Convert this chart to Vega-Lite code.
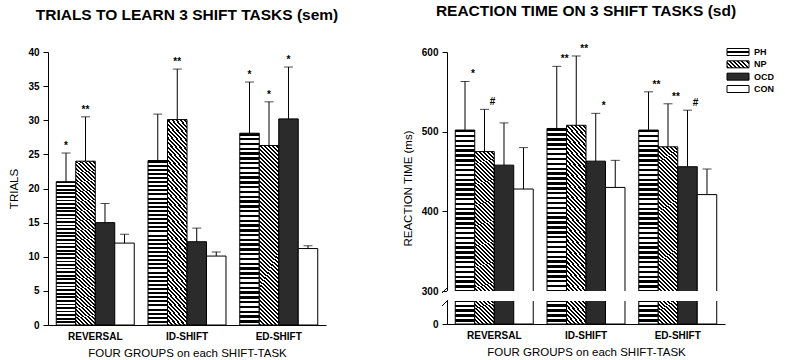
{
 "$schema": "https://vega.github.io/schema/vega-lite/v6.json",
 "padding": {"left": 8, "top": 4, "right": 0, "bottom": 0},
 "background": "#ffffff",
 "bounds": "flush",
 "spacing": 121,
 "datasets": {
  "trials": [
   {"task":"REVERSAL","group":"PH","value":21,"err":25.2,"sig":"*"},
   {"task":"REVERSAL","group":"NP","value":24,"err":30.5,"sig":"**"},
   {"task":"REVERSAL","group":"OCD","value":15,"err":17.8,"sig":""},
   {"task":"REVERSAL","group":"CON","value":12,"err":13.3,"sig":""},
   {"task":"ID-SHIFT","group":"PH","value":24.1,"err":30.9,"sig":""},
   {"task":"ID-SHIFT","group":"NP","value":30.1,"err":37.5,"sig":"**"},
   {"task":"ID-SHIFT","group":"OCD","value":12.2,"err":14.2,"sig":""},
   {"task":"ID-SHIFT","group":"CON","value":10.1,"err":10.7,"sig":""},
   {"task":"ED-SHIFT","group":"PH","value":28.1,"err":35.6,"sig":"*"},
   {"task":"ED-SHIFT","group":"NP","value":26.3,"err":32.7,"sig":"*"},
   {"task":"ED-SHIFT","group":"OCD","value":30.2,"err":37.8,"sig":"*"},
   {"task":"ED-SHIFT","group":"CON","value":11.2,"err":11.6,"sig":""}
  ],
  "rt": [
   {"task":"REVERSAL","group":"PH","value":502,"err":563,"sig":"*"},
   {"task":"REVERSAL","group":"NP","value":475,"err":528,"sig":"#"},
   {"task":"REVERSAL","group":"OCD","value":458,"err":511,"sig":""},
   {"task":"REVERSAL","group":"CON","value":428,"err":480,"sig":""},
   {"task":"ID-SHIFT","group":"PH","value":504,"err":582,"sig":"**"},
   {"task":"ID-SHIFT","group":"NP","value":508,"err":595,"sig":"**"},
   {"task":"ID-SHIFT","group":"OCD","value":463,"err":523,"sig":"*"},
   {"task":"ID-SHIFT","group":"CON","value":430,"err":464,"sig":""},
   {"task":"ED-SHIFT","group":"PH","value":502,"err":550,"sig":"**"},
   {"task":"ED-SHIFT","group":"NP","value":481,"err":535,"sig":"**"},
   {"task":"ED-SHIFT","group":"OCD","value":456,"err":527,"sig":"#"},
   {"task":"ED-SHIFT","group":"CON","value":421,"err":453,"sig":""}
  ],
  "legend": [
   {"group":"PH"},{"group":"NP"},{"group":"OCD"},{"group":"CON"}
  ]
 },
 "hconcat": [
  {
   "width": 278,
   "height": 273,
   "title": {"text": "TRIALS TO LEARN 3 SHIFT TASKS (sem)"},
   "data": {"name": "trials"},
   "encoding": {
    "x": {"field": "task", "type": "nominal", "sort": ["REVERSAL","ID-SHIFT","ED-SHIFT"], "scale": {"paddingInner": 0.15, "paddingOuter": 0.09}, "title": "FOUR GROUPS on each SHIFT-TASK"},
    "xOffset": {"field": "group", "type": "nominal", "scale": {"domain": ["PH","NP","OCD","CON"], "paddingInner": 0, "paddingOuter": 0}}
   },
   "layer": [
    {"transform": [{"filter": "datum.group === 'PH'"}], "mark": {"type": "bar", "stroke": "#000", "strokeWidth": 1, "fill": {"gradient": "linear", "x1": 0, "y1": 0, "x2": 0, "y2": 1, "stops": [
    {"offset":0,"color":"#000"},{"offset":0.0125,"color":"#000"},{"offset":0.0125,"color":"#fff"},{"offset":0.025,"color":"#fff"},
    {"offset":0.025,"color":"#000"},{"offset":0.0375,"color":"#000"},{"offset":0.0375,"color":"#fff"},{"offset":0.05,"color":"#fff"},
    {"offset":0.05,"color":"#000"},{"offset":0.0625,"color":"#000"},{"offset":0.0625,"color":"#fff"},{"offset":0.075,"color":"#fff"},
    {"offset":0.075,"color":"#000"},{"offset":0.0875,"color":"#000"},{"offset":0.0875,"color":"#fff"},{"offset":0.1,"color":"#fff"},
    {"offset":0.1,"color":"#000"},{"offset":0.1125,"color":"#000"},{"offset":0.1125,"color":"#fff"},{"offset":0.125,"color":"#fff"},
    {"offset":0.125,"color":"#000"},{"offset":0.1375,"color":"#000"},{"offset":0.1375,"color":"#fff"},{"offset":0.15,"color":"#fff"},
    {"offset":0.15,"color":"#000"},{"offset":0.1625,"color":"#000"},{"offset":0.1625,"color":"#fff"},{"offset":0.175,"color":"#fff"},
    {"offset":0.175,"color":"#000"},{"offset":0.1875,"color":"#000"},{"offset":0.1875,"color":"#fff"},{"offset":0.2,"color":"#fff"},
    {"offset":0.2,"color":"#000"},{"offset":0.2125,"color":"#000"},{"offset":0.2125,"color":"#fff"},{"offset":0.225,"color":"#fff"},
    {"offset":0.225,"color":"#000"},{"offset":0.2375,"color":"#000"},{"offset":0.2375,"color":"#fff"},{"offset":0.25,"color":"#fff"},
    {"offset":0.25,"color":"#000"},{"offset":0.2625,"color":"#000"},{"offset":0.2625,"color":"#fff"},{"offset":0.275,"color":"#fff"},
    {"offset":0.275,"color":"#000"},{"offset":0.2875,"color":"#000"},{"offset":0.2875,"color":"#fff"},{"offset":0.3,"color":"#fff"},
    {"offset":0.3,"color":"#000"},{"offset":0.3125,"color":"#000"},{"offset":0.3125,"color":"#fff"},{"offset":0.325,"color":"#fff"},
    {"offset":0.325,"color":"#000"},{"offset":0.3375,"color":"#000"},{"offset":0.3375,"color":"#fff"},{"offset":0.35,"color":"#fff"},
    {"offset":0.35,"color":"#000"},{"offset":0.3625,"color":"#000"},{"offset":0.3625,"color":"#fff"},{"offset":0.375,"color":"#fff"},
    {"offset":0.375,"color":"#000"},{"offset":0.3875,"color":"#000"},{"offset":0.3875,"color":"#fff"},{"offset":0.4,"color":"#fff"},
    {"offset":0.4,"color":"#000"},{"offset":0.4125,"color":"#000"},{"offset":0.4125,"color":"#fff"},{"offset":0.425,"color":"#fff"},
    {"offset":0.425,"color":"#000"},{"offset":0.4375,"color":"#000"},{"offset":0.4375,"color":"#fff"},{"offset":0.45,"color":"#fff"},
    {"offset":0.45,"color":"#000"},{"offset":0.4625,"color":"#000"},{"offset":0.4625,"color":"#fff"},{"offset":0.475,"color":"#fff"},
    {"offset":0.475,"color":"#000"},{"offset":0.4875,"color":"#000"},{"offset":0.4875,"color":"#fff"},{"offset":0.5,"color":"#fff"},
    {"offset":0.5,"color":"#000"},{"offset":0.5125,"color":"#000"},{"offset":0.5125,"color":"#fff"},{"offset":0.525,"color":"#fff"},
    {"offset":0.525,"color":"#000"},{"offset":0.5375,"color":"#000"},{"offset":0.5375,"color":"#fff"},{"offset":0.55,"color":"#fff"},
    {"offset":0.55,"color":"#000"},{"offset":0.5625,"color":"#000"},{"offset":0.5625,"color":"#fff"},{"offset":0.575,"color":"#fff"},
    {"offset":0.575,"color":"#000"},{"offset":0.5875,"color":"#000"},{"offset":0.5875,"color":"#fff"},{"offset":0.6,"color":"#fff"},
    {"offset":0.6,"color":"#000"},{"offset":0.6125,"color":"#000"},{"offset":0.6125,"color":"#fff"},{"offset":0.625,"color":"#fff"},
    {"offset":0.625,"color":"#000"},{"offset":0.6375,"color":"#000"},{"offset":0.6375,"color":"#fff"},{"offset":0.65,"color":"#fff"},
    {"offset":0.65,"color":"#000"},{"offset":0.6625,"color":"#000"},{"offset":0.6625,"color":"#fff"},{"offset":0.675,"color":"#fff"},
    {"offset":0.675,"color":"#000"},{"offset":0.6875,"color":"#000"},{"offset":0.6875,"color":"#fff"},{"offset":0.7,"color":"#fff"},
    {"offset":0.7,"color":"#000"},{"offset":0.7125,"color":"#000"},{"offset":0.7125,"color":"#fff"},{"offset":0.725,"color":"#fff"},
    {"offset":0.725,"color":"#000"},{"offset":0.7375,"color":"#000"},{"offset":0.7375,"color":"#fff"},{"offset":0.75,"color":"#fff"},
    {"offset":0.75,"color":"#000"},{"offset":0.7625,"color":"#000"},{"offset":0.7625,"color":"#fff"},{"offset":0.775,"color":"#fff"},
    {"offset":0.775,"color":"#000"},{"offset":0.7875,"color":"#000"},{"offset":0.7875,"color":"#fff"},{"offset":0.8,"color":"#fff"},
    {"offset":0.8,"color":"#000"},{"offset":0.8125,"color":"#000"},{"offset":0.8125,"color":"#fff"},{"offset":0.825,"color":"#fff"},
    {"offset":0.825,"color":"#000"},{"offset":0.8375,"color":"#000"},{"offset":0.8375,"color":"#fff"},{"offset":0.85,"color":"#fff"},
    {"offset":0.85,"color":"#000"},{"offset":0.8625,"color":"#000"},{"offset":0.8625,"color":"#fff"},{"offset":0.875,"color":"#fff"},
    {"offset":0.875,"color":"#000"},{"offset":0.8875,"color":"#000"},{"offset":0.8875,"color":"#fff"},{"offset":0.9,"color":"#fff"},
    {"offset":0.9,"color":"#000"},{"offset":0.9125,"color":"#000"},{"offset":0.9125,"color":"#fff"},{"offset":0.925,"color":"#fff"},
    {"offset":0.925,"color":"#000"},{"offset":0.9375,"color":"#000"},{"offset":0.9375,"color":"#fff"},{"offset":0.95,"color":"#fff"},
    {"offset":0.95,"color":"#000"},{"offset":0.9625,"color":"#000"},{"offset":0.9625,"color":"#fff"},{"offset":0.975,"color":"#fff"},
    {"offset":0.975,"color":"#000"},{"offset":0.9875,"color":"#000"},{"offset":0.9875,"color":"#fff"},{"offset":1,"color":"#fff"}
    ]}}, "encoding": {"y": {"field": "value", "type": "quantitative", "title": "TRIALS", "scale": {"domain": [0, 40], "nice": false}, "axis": {"values": [0,5,10,15,20,25,30,35,40]}}}},
    {"transform": [{"filter": "datum.group === 'NP'"}], "mark": {"type": "bar", "stroke": "#000", "strokeWidth": 1, "fill": {"gradient": "linear", "x1": 0, "y1": 1, "x2": 0.1164, "y2": -0.094, "stops": [
    {"offset":0,"color":"#000"},{"offset":0.01,"color":"#000"},{"offset":0.01,"color":"#fff"},{"offset":0.02,"color":"#fff"},
    {"offset":0.02,"color":"#000"},{"offset":0.03,"color":"#000"},{"offset":0.03,"color":"#fff"},{"offset":0.04,"color":"#fff"},
    {"offset":0.04,"color":"#000"},{"offset":0.05,"color":"#000"},{"offset":0.05,"color":"#fff"},{"offset":0.06,"color":"#fff"},
    {"offset":0.06,"color":"#000"},{"offset":0.07,"color":"#000"},{"offset":0.07,"color":"#fff"},{"offset":0.08,"color":"#fff"},
    {"offset":0.08,"color":"#000"},{"offset":0.09,"color":"#000"},{"offset":0.09,"color":"#fff"},{"offset":0.1,"color":"#fff"},
    {"offset":0.1,"color":"#000"},{"offset":0.11,"color":"#000"},{"offset":0.11,"color":"#fff"},{"offset":0.12,"color":"#fff"},
    {"offset":0.12,"color":"#000"},{"offset":0.13,"color":"#000"},{"offset":0.13,"color":"#fff"},{"offset":0.14,"color":"#fff"},
    {"offset":0.14,"color":"#000"},{"offset":0.15,"color":"#000"},{"offset":0.15,"color":"#fff"},{"offset":0.16,"color":"#fff"},
    {"offset":0.16,"color":"#000"},{"offset":0.17,"color":"#000"},{"offset":0.17,"color":"#fff"},{"offset":0.18,"color":"#fff"},
    {"offset":0.18,"color":"#000"},{"offset":0.19,"color":"#000"},{"offset":0.19,"color":"#fff"},{"offset":0.2,"color":"#fff"},
    {"offset":0.2,"color":"#000"},{"offset":0.21,"color":"#000"},{"offset":0.21,"color":"#fff"},{"offset":0.22,"color":"#fff"},
    {"offset":0.22,"color":"#000"},{"offset":0.23,"color":"#000"},{"offset":0.23,"color":"#fff"},{"offset":0.24,"color":"#fff"},
    {"offset":0.24,"color":"#000"},{"offset":0.25,"color":"#000"},{"offset":0.25,"color":"#fff"},{"offset":0.26,"color":"#fff"},
    {"offset":0.26,"color":"#000"},{"offset":0.27,"color":"#000"},{"offset":0.27,"color":"#fff"},{"offset":0.28,"color":"#fff"},
    {"offset":0.28,"color":"#000"},{"offset":0.29,"color":"#000"},{"offset":0.29,"color":"#fff"},{"offset":0.3,"color":"#fff"},
    {"offset":0.3,"color":"#000"},{"offset":0.31,"color":"#000"},{"offset":0.31,"color":"#fff"},{"offset":0.32,"color":"#fff"},
    {"offset":0.32,"color":"#000"},{"offset":0.33,"color":"#000"},{"offset":0.33,"color":"#fff"},{"offset":0.34,"color":"#fff"},
    {"offset":0.34,"color":"#000"},{"offset":0.35,"color":"#000"},{"offset":0.35,"color":"#fff"},{"offset":0.36,"color":"#fff"},
    {"offset":0.36,"color":"#000"},{"offset":0.37,"color":"#000"},{"offset":0.37,"color":"#fff"},{"offset":0.38,"color":"#fff"},
    {"offset":0.38,"color":"#000"},{"offset":0.39,"color":"#000"},{"offset":0.39,"color":"#fff"},{"offset":0.4,"color":"#fff"},
    {"offset":0.4,"color":"#000"},{"offset":0.41,"color":"#000"},{"offset":0.41,"color":"#fff"},{"offset":0.42,"color":"#fff"},
    {"offset":0.42,"color":"#000"},{"offset":0.43,"color":"#000"},{"offset":0.43,"color":"#fff"},{"offset":0.44,"color":"#fff"},
    {"offset":0.44,"color":"#000"},{"offset":0.45,"color":"#000"},{"offset":0.45,"color":"#fff"},{"offset":0.46,"color":"#fff"},
    {"offset":0.46,"color":"#000"},{"offset":0.47,"color":"#000"},{"offset":0.47,"color":"#fff"},{"offset":0.48,"color":"#fff"},
    {"offset":0.48,"color":"#000"},{"offset":0.49,"color":"#000"},{"offset":0.49,"color":"#fff"},{"offset":0.5,"color":"#fff"},
    {"offset":0.5,"color":"#000"},{"offset":0.51,"color":"#000"},{"offset":0.51,"color":"#fff"},{"offset":0.52,"color":"#fff"},
    {"offset":0.52,"color":"#000"},{"offset":0.53,"color":"#000"},{"offset":0.53,"color":"#fff"},{"offset":0.54,"color":"#fff"},
    {"offset":0.54,"color":"#000"},{"offset":0.55,"color":"#000"},{"offset":0.55,"color":"#fff"},{"offset":0.56,"color":"#fff"},
    {"offset":0.56,"color":"#000"},{"offset":0.57,"color":"#000"},{"offset":0.57,"color":"#fff"},{"offset":0.58,"color":"#fff"},
    {"offset":0.58,"color":"#000"},{"offset":0.59,"color":"#000"},{"offset":0.59,"color":"#fff"},{"offset":0.6,"color":"#fff"},
    {"offset":0.6,"color":"#000"},{"offset":0.61,"color":"#000"},{"offset":0.61,"color":"#fff"},{"offset":0.62,"color":"#fff"},
    {"offset":0.62,"color":"#000"},{"offset":0.63,"color":"#000"},{"offset":0.63,"color":"#fff"},{"offset":0.64,"color":"#fff"},
    {"offset":0.64,"color":"#000"},{"offset":0.65,"color":"#000"},{"offset":0.65,"color":"#fff"},{"offset":0.66,"color":"#fff"},
    {"offset":0.66,"color":"#000"},{"offset":0.67,"color":"#000"},{"offset":0.67,"color":"#fff"},{"offset":0.68,"color":"#fff"},
    {"offset":0.68,"color":"#000"},{"offset":0.69,"color":"#000"},{"offset":0.69,"color":"#fff"},{"offset":0.7,"color":"#fff"},
    {"offset":0.7,"color":"#000"},{"offset":0.71,"color":"#000"},{"offset":0.71,"color":"#fff"},{"offset":0.72,"color":"#fff"},
    {"offset":0.72,"color":"#000"},{"offset":0.73,"color":"#000"},{"offset":0.73,"color":"#fff"},{"offset":0.74,"color":"#fff"},
    {"offset":0.74,"color":"#000"},{"offset":0.75,"color":"#000"},{"offset":0.75,"color":"#fff"},{"offset":0.76,"color":"#fff"},
    {"offset":0.76,"color":"#000"},{"offset":0.77,"color":"#000"},{"offset":0.77,"color":"#fff"},{"offset":0.78,"color":"#fff"},
    {"offset":0.78,"color":"#000"},{"offset":0.79,"color":"#000"},{"offset":0.79,"color":"#fff"},{"offset":0.8,"color":"#fff"},
    {"offset":0.8,"color":"#000"},{"offset":0.81,"color":"#000"},{"offset":0.81,"color":"#fff"},{"offset":0.82,"color":"#fff"},
    {"offset":0.82,"color":"#000"},{"offset":0.83,"color":"#000"},{"offset":0.83,"color":"#fff"},{"offset":0.84,"color":"#fff"},
    {"offset":0.84,"color":"#000"},{"offset":0.85,"color":"#000"},{"offset":0.85,"color":"#fff"},{"offset":0.86,"color":"#fff"},
    {"offset":0.86,"color":"#000"},{"offset":0.87,"color":"#000"},{"offset":0.87,"color":"#fff"},{"offset":0.88,"color":"#fff"},
    {"offset":0.88,"color":"#000"},{"offset":0.89,"color":"#000"},{"offset":0.89,"color":"#fff"},{"offset":0.9,"color":"#fff"},
    {"offset":0.9,"color":"#000"},{"offset":0.91,"color":"#000"},{"offset":0.91,"color":"#fff"},{"offset":0.92,"color":"#fff"},
    {"offset":0.92,"color":"#000"},{"offset":0.93,"color":"#000"},{"offset":0.93,"color":"#fff"},{"offset":0.94,"color":"#fff"},
    {"offset":0.94,"color":"#000"},{"offset":0.95,"color":"#000"},{"offset":0.95,"color":"#fff"},{"offset":0.96,"color":"#fff"},
    {"offset":0.96,"color":"#000"},{"offset":0.97,"color":"#000"},{"offset":0.97,"color":"#fff"},{"offset":0.98,"color":"#fff"},
    {"offset":0.98,"color":"#000"},{"offset":0.99,"color":"#000"},{"offset":0.99,"color":"#fff"},{"offset":1,"color":"#fff"}
    ]}}, "encoding": {"y": {"field": "value", "type": "quantitative", "title": "TRIALS", "axis": {"values": [0,5,10,15,20,25,30,35,40]}}}},
    {"transform": [{"filter": "datum.group === 'OCD'"}], "mark": {"type": "bar", "fill": "#2b2b2b", "stroke": "#000", "strokeWidth": 1}, "encoding": {"y": {"field": "value", "type": "quantitative", "title": "TRIALS", "axis": {"values": [0,5,10,15,20,25,30,35,40]}}}},
    {"transform": [{"filter": "datum.group === 'CON'"}], "mark": {"type": "bar", "fill": "#ffffff", "stroke": "#000", "strokeWidth": 1}, "encoding": {"y": {"field": "value", "type": "quantitative", "title": "TRIALS", "axis": {"values": [0,5,10,15,20,25,30,35,40]}}}},
    {"mark": {"type": "rule", "color": "#000", "strokeWidth": 1}, "encoding": {"y": {"field": "value", "type": "quantitative", "title": "TRIALS", "axis": {"values": [0,5,10,15,20,25,30,35,40]}}, "y2": {"field": "err"}}},
    {"mark": {"type": "tick", "color": "#000", "size": 9, "thickness": 1}, "encoding": {"y": {"field": "err", "type": "quantitative", "title": "TRIALS", "axis": {"values": [0,5,10,15,20,25,30,35,40]}}}},
    {"mark": {"type": "text", "fontSize": 10, "fontWeight": "bold", "baseline": "alphabetic", "dy": -4, "color": "#000"}, "encoding": {"y": {"field": "err", "type": "quantitative", "title": "TRIALS", "axis": {"values": [0,5,10,15,20,25,30,35,40]}}, "text": {"field": "sig"}}}
   ]
  },
  {
   "bounds": "flush",
   "spacing": 2,
   "hconcat": [
    {
     "width": 278,
     "height": 272,
     "title": {"text": "REACTION TIME ON 3 SHIFT TASKS (sd)"},
     "resolve": {"scale": {"x": "independent"}, "axis": {"x": "independent"}},
     "layer": [
      {
       "data": {"name": "rt"},
       "encoding": {
        "x": {"field": "task", "type": "nominal", "sort": ["REVERSAL","ID-SHIFT","ED-SHIFT"], "scale": {"paddingInner": 0.15, "paddingOuter": 0.09}, "title": "FOUR GROUPS on each SHIFT-TASK"},
        "xOffset": {"field": "group", "type": "nominal", "scale": {"domain": ["PH","NP","OCD","CON"], "paddingInner": 0, "paddingOuter": 0}}
       },
       "layer": [
        {"transform": [{"filter": "datum.group === 'PH'"}], "mark": {"type": "bar", "stroke": "#000", "strokeWidth": 1, "fill": {"gradient": "linear", "x1": 0, "y1": 0, "x2": 0, "y2": 1, "stops": [
    {"offset":0,"color":"#000"},{"offset":0.0125,"color":"#000"},{"offset":0.0125,"color":"#fff"},{"offset":0.025,"color":"#fff"},
    {"offset":0.025,"color":"#000"},{"offset":0.0375,"color":"#000"},{"offset":0.0375,"color":"#fff"},{"offset":0.05,"color":"#fff"},
    {"offset":0.05,"color":"#000"},{"offset":0.0625,"color":"#000"},{"offset":0.0625,"color":"#fff"},{"offset":0.075,"color":"#fff"},
    {"offset":0.075,"color":"#000"},{"offset":0.0875,"color":"#000"},{"offset":0.0875,"color":"#fff"},{"offset":0.1,"color":"#fff"},
    {"offset":0.1,"color":"#000"},{"offset":0.1125,"color":"#000"},{"offset":0.1125,"color":"#fff"},{"offset":0.125,"color":"#fff"},
    {"offset":0.125,"color":"#000"},{"offset":0.1375,"color":"#000"},{"offset":0.1375,"color":"#fff"},{"offset":0.15,"color":"#fff"},
    {"offset":0.15,"color":"#000"},{"offset":0.1625,"color":"#000"},{"offset":0.1625,"color":"#fff"},{"offset":0.175,"color":"#fff"},
    {"offset":0.175,"color":"#000"},{"offset":0.1875,"color":"#000"},{"offset":0.1875,"color":"#fff"},{"offset":0.2,"color":"#fff"},
    {"offset":0.2,"color":"#000"},{"offset":0.2125,"color":"#000"},{"offset":0.2125,"color":"#fff"},{"offset":0.225,"color":"#fff"},
    {"offset":0.225,"color":"#000"},{"offset":0.2375,"color":"#000"},{"offset":0.2375,"color":"#fff"},{"offset":0.25,"color":"#fff"},
    {"offset":0.25,"color":"#000"},{"offset":0.2625,"color":"#000"},{"offset":0.2625,"color":"#fff"},{"offset":0.275,"color":"#fff"},
    {"offset":0.275,"color":"#000"},{"offset":0.2875,"color":"#000"},{"offset":0.2875,"color":"#fff"},{"offset":0.3,"color":"#fff"},
    {"offset":0.3,"color":"#000"},{"offset":0.3125,"color":"#000"},{"offset":0.3125,"color":"#fff"},{"offset":0.325,"color":"#fff"},
    {"offset":0.325,"color":"#000"},{"offset":0.3375,"color":"#000"},{"offset":0.3375,"color":"#fff"},{"offset":0.35,"color":"#fff"},
    {"offset":0.35,"color":"#000"},{"offset":0.3625,"color":"#000"},{"offset":0.3625,"color":"#fff"},{"offset":0.375,"color":"#fff"},
    {"offset":0.375,"color":"#000"},{"offset":0.3875,"color":"#000"},{"offset":0.3875,"color":"#fff"},{"offset":0.4,"color":"#fff"},
    {"offset":0.4,"color":"#000"},{"offset":0.4125,"color":"#000"},{"offset":0.4125,"color":"#fff"},{"offset":0.425,"color":"#fff"},
    {"offset":0.425,"color":"#000"},{"offset":0.4375,"color":"#000"},{"offset":0.4375,"color":"#fff"},{"offset":0.45,"color":"#fff"},
    {"offset":0.45,"color":"#000"},{"offset":0.4625,"color":"#000"},{"offset":0.4625,"color":"#fff"},{"offset":0.475,"color":"#fff"},
    {"offset":0.475,"color":"#000"},{"offset":0.4875,"color":"#000"},{"offset":0.4875,"color":"#fff"},{"offset":0.5,"color":"#fff"},
    {"offset":0.5,"color":"#000"},{"offset":0.5125,"color":"#000"},{"offset":0.5125,"color":"#fff"},{"offset":0.525,"color":"#fff"},
    {"offset":0.525,"color":"#000"},{"offset":0.5375,"color":"#000"},{"offset":0.5375,"color":"#fff"},{"offset":0.55,"color":"#fff"},
    {"offset":0.55,"color":"#000"},{"offset":0.5625,"color":"#000"},{"offset":0.5625,"color":"#fff"},{"offset":0.575,"color":"#fff"},
    {"offset":0.575,"color":"#000"},{"offset":0.5875,"color":"#000"},{"offset":0.5875,"color":"#fff"},{"offset":0.6,"color":"#fff"},
    {"offset":0.6,"color":"#000"},{"offset":0.6125,"color":"#000"},{"offset":0.6125,"color":"#fff"},{"offset":0.625,"color":"#fff"},
    {"offset":0.625,"color":"#000"},{"offset":0.6375,"color":"#000"},{"offset":0.6375,"color":"#fff"},{"offset":0.65,"color":"#fff"},
    {"offset":0.65,"color":"#000"},{"offset":0.6625,"color":"#000"},{"offset":0.6625,"color":"#fff"},{"offset":0.675,"color":"#fff"},
    {"offset":0.675,"color":"#000"},{"offset":0.6875,"color":"#000"},{"offset":0.6875,"color":"#fff"},{"offset":0.7,"color":"#fff"},
    {"offset":0.7,"color":"#000"},{"offset":0.7125,"color":"#000"},{"offset":0.7125,"color":"#fff"},{"offset":0.725,"color":"#fff"},
    {"offset":0.725,"color":"#000"},{"offset":0.7375,"color":"#000"},{"offset":0.7375,"color":"#fff"},{"offset":0.75,"color":"#fff"},
    {"offset":0.75,"color":"#000"},{"offset":0.7625,"color":"#000"},{"offset":0.7625,"color":"#fff"},{"offset":0.775,"color":"#fff"},
    {"offset":0.775,"color":"#000"},{"offset":0.7875,"color":"#000"},{"offset":0.7875,"color":"#fff"},{"offset":0.8,"color":"#fff"},
    {"offset":0.8,"color":"#000"},{"offset":0.8125,"color":"#000"},{"offset":0.8125,"color":"#fff"},{"offset":0.825,"color":"#fff"},
    {"offset":0.825,"color":"#000"},{"offset":0.8375,"color":"#000"},{"offset":0.8375,"color":"#fff"},{"offset":0.85,"color":"#fff"},
    {"offset":0.85,"color":"#000"},{"offset":0.8625,"color":"#000"},{"offset":0.8625,"color":"#fff"},{"offset":0.875,"color":"#fff"},
    {"offset":0.875,"color":"#000"},{"offset":0.8875,"color":"#000"},{"offset":0.8875,"color":"#fff"},{"offset":0.9,"color":"#fff"},
    {"offset":0.9,"color":"#000"},{"offset":0.9125,"color":"#000"},{"offset":0.9125,"color":"#fff"},{"offset":0.925,"color":"#fff"},
    {"offset":0.925,"color":"#000"},{"offset":0.9375,"color":"#000"},{"offset":0.9375,"color":"#fff"},{"offset":0.95,"color":"#fff"},
    {"offset":0.95,"color":"#000"},{"offset":0.9625,"color":"#000"},{"offset":0.9625,"color":"#fff"},{"offset":0.975,"color":"#fff"},
    {"offset":0.975,"color":"#000"},{"offset":0.9875,"color":"#000"},{"offset":0.9875,"color":"#fff"},{"offset":1,"color":"#fff"}
        ]}}, "encoding": {"y": {"field": "value", "type": "quantitative", "title": "REACTION TIME (ms)", "scale": {"domain": [0, 300, 600], "range": [272, 239, 0], "nice": false, "zero": false}, "axis": {"values": [0,300,400,500,600]}}}},
        {"transform": [{"filter": "datum.group === 'NP'"}], "mark": {"type": "bar", "stroke": "#000", "strokeWidth": 1, "fill": {"gradient": "linear", "x1": 0, "y1": 1, "x2": 0.1164, "y2": -0.094, "stops": [
    {"offset":0,"color":"#000"},{"offset":0.01,"color":"#000"},{"offset":0.01,"color":"#fff"},{"offset":0.02,"color":"#fff"},
    {"offset":0.02,"color":"#000"},{"offset":0.03,"color":"#000"},{"offset":0.03,"color":"#fff"},{"offset":0.04,"color":"#fff"},
    {"offset":0.04,"color":"#000"},{"offset":0.05,"color":"#000"},{"offset":0.05,"color":"#fff"},{"offset":0.06,"color":"#fff"},
    {"offset":0.06,"color":"#000"},{"offset":0.07,"color":"#000"},{"offset":0.07,"color":"#fff"},{"offset":0.08,"color":"#fff"},
    {"offset":0.08,"color":"#000"},{"offset":0.09,"color":"#000"},{"offset":0.09,"color":"#fff"},{"offset":0.1,"color":"#fff"},
    {"offset":0.1,"color":"#000"},{"offset":0.11,"color":"#000"},{"offset":0.11,"color":"#fff"},{"offset":0.12,"color":"#fff"},
    {"offset":0.12,"color":"#000"},{"offset":0.13,"color":"#000"},{"offset":0.13,"color":"#fff"},{"offset":0.14,"color":"#fff"},
    {"offset":0.14,"color":"#000"},{"offset":0.15,"color":"#000"},{"offset":0.15,"color":"#fff"},{"offset":0.16,"color":"#fff"},
    {"offset":0.16,"color":"#000"},{"offset":0.17,"color":"#000"},{"offset":0.17,"color":"#fff"},{"offset":0.18,"color":"#fff"},
    {"offset":0.18,"color":"#000"},{"offset":0.19,"color":"#000"},{"offset":0.19,"color":"#fff"},{"offset":0.2,"color":"#fff"},
    {"offset":0.2,"color":"#000"},{"offset":0.21,"color":"#000"},{"offset":0.21,"color":"#fff"},{"offset":0.22,"color":"#fff"},
    {"offset":0.22,"color":"#000"},{"offset":0.23,"color":"#000"},{"offset":0.23,"color":"#fff"},{"offset":0.24,"color":"#fff"},
    {"offset":0.24,"color":"#000"},{"offset":0.25,"color":"#000"},{"offset":0.25,"color":"#fff"},{"offset":0.26,"color":"#fff"},
    {"offset":0.26,"color":"#000"},{"offset":0.27,"color":"#000"},{"offset":0.27,"color":"#fff"},{"offset":0.28,"color":"#fff"},
    {"offset":0.28,"color":"#000"},{"offset":0.29,"color":"#000"},{"offset":0.29,"color":"#fff"},{"offset":0.3,"color":"#fff"},
    {"offset":0.3,"color":"#000"},{"offset":0.31,"color":"#000"},{"offset":0.31,"color":"#fff"},{"offset":0.32,"color":"#fff"},
    {"offset":0.32,"color":"#000"},{"offset":0.33,"color":"#000"},{"offset":0.33,"color":"#fff"},{"offset":0.34,"color":"#fff"},
    {"offset":0.34,"color":"#000"},{"offset":0.35,"color":"#000"},{"offset":0.35,"color":"#fff"},{"offset":0.36,"color":"#fff"},
    {"offset":0.36,"color":"#000"},{"offset":0.37,"color":"#000"},{"offset":0.37,"color":"#fff"},{"offset":0.38,"color":"#fff"},
    {"offset":0.38,"color":"#000"},{"offset":0.39,"color":"#000"},{"offset":0.39,"color":"#fff"},{"offset":0.4,"color":"#fff"},
    {"offset":0.4,"color":"#000"},{"offset":0.41,"color":"#000"},{"offset":0.41,"color":"#fff"},{"offset":0.42,"color":"#fff"},
    {"offset":0.42,"color":"#000"},{"offset":0.43,"color":"#000"},{"offset":0.43,"color":"#fff"},{"offset":0.44,"color":"#fff"},
    {"offset":0.44,"color":"#000"},{"offset":0.45,"color":"#000"},{"offset":0.45,"color":"#fff"},{"offset":0.46,"color":"#fff"},
    {"offset":0.46,"color":"#000"},{"offset":0.47,"color":"#000"},{"offset":0.47,"color":"#fff"},{"offset":0.48,"color":"#fff"},
    {"offset":0.48,"color":"#000"},{"offset":0.49,"color":"#000"},{"offset":0.49,"color":"#fff"},{"offset":0.5,"color":"#fff"},
    {"offset":0.5,"color":"#000"},{"offset":0.51,"color":"#000"},{"offset":0.51,"color":"#fff"},{"offset":0.52,"color":"#fff"},
    {"offset":0.52,"color":"#000"},{"offset":0.53,"color":"#000"},{"offset":0.53,"color":"#fff"},{"offset":0.54,"color":"#fff"},
    {"offset":0.54,"color":"#000"},{"offset":0.55,"color":"#000"},{"offset":0.55,"color":"#fff"},{"offset":0.56,"color":"#fff"},
    {"offset":0.56,"color":"#000"},{"offset":0.57,"color":"#000"},{"offset":0.57,"color":"#fff"},{"offset":0.58,"color":"#fff"},
    {"offset":0.58,"color":"#000"},{"offset":0.59,"color":"#000"},{"offset":0.59,"color":"#fff"},{"offset":0.6,"color":"#fff"},
    {"offset":0.6,"color":"#000"},{"offset":0.61,"color":"#000"},{"offset":0.61,"color":"#fff"},{"offset":0.62,"color":"#fff"},
    {"offset":0.62,"color":"#000"},{"offset":0.63,"color":"#000"},{"offset":0.63,"color":"#fff"},{"offset":0.64,"color":"#fff"},
    {"offset":0.64,"color":"#000"},{"offset":0.65,"color":"#000"},{"offset":0.65,"color":"#fff"},{"offset":0.66,"color":"#fff"},
    {"offset":0.66,"color":"#000"},{"offset":0.67,"color":"#000"},{"offset":0.67,"color":"#fff"},{"offset":0.68,"color":"#fff"},
    {"offset":0.68,"color":"#000"},{"offset":0.69,"color":"#000"},{"offset":0.69,"color":"#fff"},{"offset":0.7,"color":"#fff"},
    {"offset":0.7,"color":"#000"},{"offset":0.71,"color":"#000"},{"offset":0.71,"color":"#fff"},{"offset":0.72,"color":"#fff"},
    {"offset":0.72,"color":"#000"},{"offset":0.73,"color":"#000"},{"offset":0.73,"color":"#fff"},{"offset":0.74,"color":"#fff"},
    {"offset":0.74,"color":"#000"},{"offset":0.75,"color":"#000"},{"offset":0.75,"color":"#fff"},{"offset":0.76,"color":"#fff"},
    {"offset":0.76,"color":"#000"},{"offset":0.77,"color":"#000"},{"offset":0.77,"color":"#fff"},{"offset":0.78,"color":"#fff"},
    {"offset":0.78,"color":"#000"},{"offset":0.79,"color":"#000"},{"offset":0.79,"color":"#fff"},{"offset":0.8,"color":"#fff"},
    {"offset":0.8,"color":"#000"},{"offset":0.81,"color":"#000"},{"offset":0.81,"color":"#fff"},{"offset":0.82,"color":"#fff"},
    {"offset":0.82,"color":"#000"},{"offset":0.83,"color":"#000"},{"offset":0.83,"color":"#fff"},{"offset":0.84,"color":"#fff"},
    {"offset":0.84,"color":"#000"},{"offset":0.85,"color":"#000"},{"offset":0.85,"color":"#fff"},{"offset":0.86,"color":"#fff"},
    {"offset":0.86,"color":"#000"},{"offset":0.87,"color":"#000"},{"offset":0.87,"color":"#fff"},{"offset":0.88,"color":"#fff"},
    {"offset":0.88,"color":"#000"},{"offset":0.89,"color":"#000"},{"offset":0.89,"color":"#fff"},{"offset":0.9,"color":"#fff"},
    {"offset":0.9,"color":"#000"},{"offset":0.91,"color":"#000"},{"offset":0.91,"color":"#fff"},{"offset":0.92,"color":"#fff"},
    {"offset":0.92,"color":"#000"},{"offset":0.93,"color":"#000"},{"offset":0.93,"color":"#fff"},{"offset":0.94,"color":"#fff"},
    {"offset":0.94,"color":"#000"},{"offset":0.95,"color":"#000"},{"offset":0.95,"color":"#fff"},{"offset":0.96,"color":"#fff"},
    {"offset":0.96,"color":"#000"},{"offset":0.97,"color":"#000"},{"offset":0.97,"color":"#fff"},{"offset":0.98,"color":"#fff"},
    {"offset":0.98,"color":"#000"},{"offset":0.99,"color":"#000"},{"offset":0.99,"color":"#fff"},{"offset":1,"color":"#fff"}
        ]}}, "encoding": {"y": {"field": "value", "type": "quantitative", "title": "REACTION TIME (ms)"}}},
        {"transform": [{"filter": "datum.group === 'OCD'"}], "mark": {"type": "bar", "fill": "#2b2b2b", "stroke": "#000", "strokeWidth": 1}, "encoding": {"y": {"field": "value", "type": "quantitative", "title": "REACTION TIME (ms)"}}},
        {"transform": [{"filter": "datum.group === 'CON'"}], "mark": {"type": "bar", "fill": "#ffffff", "stroke": "#000", "strokeWidth": 1}, "encoding": {"y": {"field": "value", "type": "quantitative", "title": "REACTION TIME (ms)"}}},
        {"mark": {"type": "rule", "color": "#000", "strokeWidth": 1}, "encoding": {"y": {"field": "value", "type": "quantitative", "title": "REACTION TIME (ms)"}, "y2": {"field": "err"}}},
        {"mark": {"type": "tick", "color": "#000", "size": 9, "thickness": 1}, "encoding": {"y": {"field": "err", "type": "quantitative", "title": "REACTION TIME (ms)"}}},
        {"mark": {"type": "text", "fontSize": 10, "fontWeight": "bold", "baseline": "alphabetic", "dy": -4, "dx": 8, "color": "#000"}, "encoding": {"y": {"field": "err", "type": "quantitative", "title": "REACTION TIME (ms)"}, "text": {"field": "sig"}}}
       ]
      },
      {
       "data": {"values": [{}]},
       "mark": {"type": "rect", "fill": "#ffffff"},
       "encoding": {"y": {"datum": 209, "type": "quantitative", "title": "REACTION TIME (ms)"}, "y2": {"datum": 300}}
      },
      {
       "data": {"values": [{}]},
       "mark": {"type": "rule", "color": "#000", "strokeWidth": 1},
       "encoding": {"x": {"datum": -0.018, "type": "quantitative", "scale": {"domain": [0, 1], "nice": false, "zero": false}, "axis": null}, "x2": {"datum": 0.004}, "y": {"datum": 282, "type": "quantitative", "title": "REACTION TIME (ms)"}, "y2": {"datum": 305}}
      },
      {
       "data": {"values": [{}]},
       "mark": {"type": "rule", "color": "#000", "strokeWidth": 1},
       "encoding": {"x": {"datum": -0.018, "type": "quantitative", "scale": {"domain": [0, 1], "nice": false, "zero": false}, "axis": null}, "x2": {"datum": 0.004}, "y": {"datum": 164, "type": "quantitative", "title": "REACTION TIME (ms)"}, "y2": {"datum": 218}}
      }
     ]
    },
    {
     "width": 55,
     "height": 37,
     "data": {"name": "legend"},
     "encoding": {
      "y": {"field": "group", "type": "nominal", "scale": {"type": "point", "padding": 0, "domain": ["PH","NP","OCD","CON"]}, "axis": null}
     },
     "layer": [
      {"transform": [{"filter": "datum.group === 'PH'"}], "mark": {"type": "bar", "stroke": "#000", "strokeWidth": 1, "height": 7, "fill": {"gradient": "linear", "x1": 0, "y1": 0, "x2": 0, "y2": 1, "stops": [
    {"offset":0,"color":"#fff"},{"offset":0.3,"color":"#fff"},{"offset":0.3,"color":"#000"},{"offset":0.43,"color":"#000"},{"offset":0.43,"color":"#fff"},{"offset":0.57,"color":"#fff"},{"offset":0.57,"color":"#000"},{"offset":0.7,"color":"#000"},{"offset":0.7,"color":"#fff"},{"offset":1,"color":"#fff"}
      ]}}, "encoding": {"x": {"datum": 0, "type": "quantitative", "scale": {"domain": [0, 55], "nice": false, "zero": false}, "axis": null}, "x2": {"datum": 22}}},
      {"transform": [{"filter": "datum.group === 'NP'"}], "mark": {"type": "bar", "stroke": "#000", "strokeWidth": 1, "height": 7, "fill": {"gradient": "linear", "x1": 0, "y1": 1, "x2": 1.197, "y2": 0.619, "stops": [
    {"offset":0,"color":"#000"},{"offset":0.0714,"color":"#000"},{"offset":0.0714,"color":"#fff"},{"offset":0.1429,"color":"#fff"},
    {"offset":0.1429,"color":"#000"},{"offset":0.2143,"color":"#000"},{"offset":0.2143,"color":"#fff"},{"offset":0.2857,"color":"#fff"},
    {"offset":0.2857,"color":"#000"},{"offset":0.3571,"color":"#000"},{"offset":0.3571,"color":"#fff"},{"offset":0.4286,"color":"#fff"},
    {"offset":0.4286,"color":"#000"},{"offset":0.5,"color":"#000"},{"offset":0.5,"color":"#fff"},{"offset":0.5714,"color":"#fff"},
    {"offset":0.5714,"color":"#000"},{"offset":0.6429,"color":"#000"},{"offset":0.6429,"color":"#fff"},{"offset":0.7143,"color":"#fff"},
    {"offset":0.7143,"color":"#000"},{"offset":0.7857,"color":"#000"},{"offset":0.7857,"color":"#fff"},{"offset":0.8571,"color":"#fff"},
    {"offset":0.8571,"color":"#000"},{"offset":0.9286,"color":"#000"},{"offset":0.9286,"color":"#fff"},{"offset":1,"color":"#fff"}
      ]}}, "encoding": {"x": {"datum": 0, "type": "quantitative"}, "x2": {"datum": 22}}},
      {"transform": [{"filter": "datum.group === 'OCD'"}], "mark": {"type": "bar", "fill": "#2b2b2b", "stroke": "#000", "strokeWidth": 1, "height": 7}, "encoding": {"x": {"datum": 0, "type": "quantitative"}, "x2": {"datum": 22}}},
      {"transform": [{"filter": "datum.group === 'CON'"}], "mark": {"type": "bar", "fill": "#ffffff", "stroke": "#000", "strokeWidth": 1, "height": 7}, "encoding": {"x": {"datum": 0, "type": "quantitative"}, "x2": {"datum": 22}}},
      {"mark": {"type": "text", "align": "left", "baseline": "middle", "fontSize": 9, "fontWeight": "bold", "color": "#000"}, "encoding": {"x": {"datum": 27, "type": "quantitative"}, "text": {"field": "group"}}}
     ]
    }
   ]
  }
 ],
 "config": {
  "view": {"stroke": null},
  "font": "Liberation Sans",
  "title": {"font": "Liberation Sans", "fontSize": 15.5, "fontWeight": "bold", "color": "#000", "anchor": "middle", "offset": 24},
  "axis": {"domainColor": "#000", "domainWidth": 1, "tickColor": "#000", "labelColor": "#000", "titleColor": "#000", "labelFont": "Liberation Sans", "titleFont": "Liberation Sans", "labelFontWeight": "bold", "labelFontSize": 10, "titleFontWeight": "normal", "titleFontSize": 11.5, "grid": false, "labelOverlap": false},
  "axisX": {"ticks": false, "labelAngle": 0, "labelPadding": 6, "titlePadding": 6},
  "axisY": {"tickSize": 5, "labelPadding": 4, "titlePadding": 8}
 }
}
